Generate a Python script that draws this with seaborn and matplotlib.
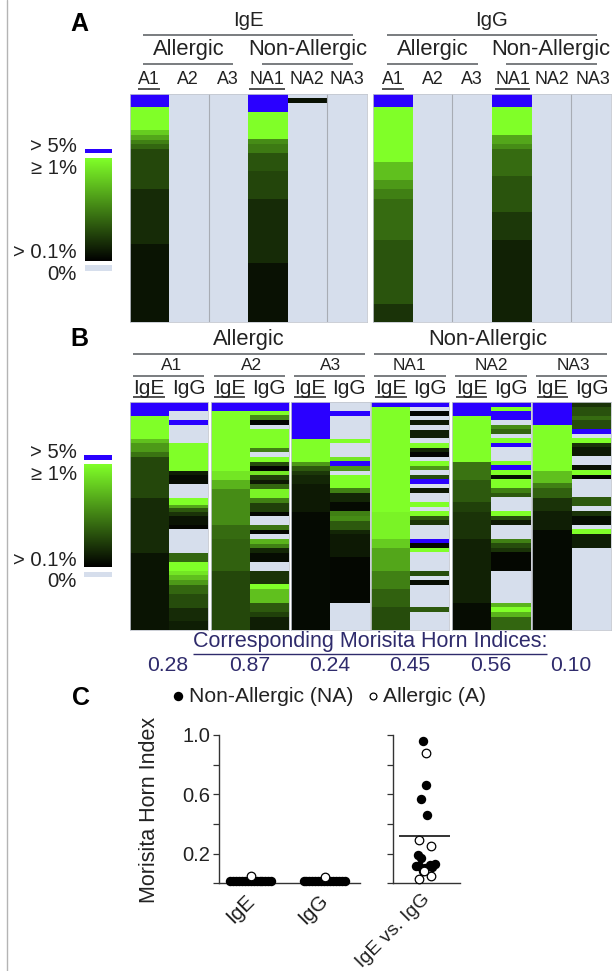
import numpy as np
import pandas as pd
import matplotlib
matplotlib.use('Agg')
import matplotlib.pyplot as plt
from matplotlib.cm import ScalarMappable
from matplotlib.colors import LinearSegmentedColormap, Normalize
import seaborn as sns

sns.set_style('white')
plt.rcParams['font.family'] = ['Liberation Sans', 'DejaVu Sans']

W, H = 612, 971
B = 2.0      # > 5 %, blue
E = np.nan   # 0 %, not detected
ROWS = 684

# ── Data: (share of column height, green level) from top to bottom ────────────
empty = [(684, E)]

a_ige_a1 = [(40, B), (68, 1), (15, .8), (15, .65), (12, .5), (14, .4), (122, .28), (165, .17), (233, .08)]
a_ige_na1 = [(55, B), (80, 1), (15, .55), (27, .48), (55, .33), (82, .27), (192, .17), (178, .07)]
a_ige_na2 = [(13, E), (14, .07), (657, E)]
a_igg_a1 = [(40, B), (165, 1), (54, .75), (27, .6), (28, .5), (123, .42), (192, .33), (55, .2)]
a_igg_na1 = [(40, B), (83, 1), (27, .65), (14, .55), (82, .42), (109, .33), (82, .22), (247, .13)]

b_a1_ige = [(40, B), (70, 1), (13, .75), (27, .6), (14, .45), (123, .28), (164, .17), (233, .08)]
b_a1_igg = [(27, B), (26, E), (15, B), (55, E), (82, 1), (13, .12), (27, .05), (42, E), (21, 1), (8, .65),
            (12, .35), (13, .2), (27, .08), (13, .03), (70, E), (27, .4), (28, 1), (12, .9), (15, .75),
            (15, .6), (27, .4), (41, .3), (40, .17), (28, .12)]
b_a2_ige = [(27, B), (178, 1), (28, .9), (27, .7), (109, .55), (41, .42), (96, .38), (178, .28)]
b_a2_igg = [(27, B), (11, 1), (16, .55), (14, .02), (13, E), (55, 1), (14, .5), (14, E), (14, 1), (13, .3),
            (14, .02), (13, .9), (14, .25), (14, .1), (14, .4), (27, .95), (14, .5), (27, .25), (14, .03),
            (27, E), (14, .45), (13, .02), (14, E), (14, .7), (14, .5), (13, .15), (27, .05), (28, E),
            (40, .2), (15, 1), (42, .75), (27, .35), (13, .25), (41, .12)]
b_a3_ige = [(110, B), (68, 1), (13, .6), (14, .35), (13, .22), (28, .15), (82, .1), (356, .04)]
b_a3_igg = [(27, E), (13, B), (70, E), (13, 1), (41, E), (13, .9), (14, B), (14, .6), (13, E), (40, 1),
            (15, .5), (27, .15), (26, .04), (14, .5), (15, .55), (27, .35), (14, .15), (69, .1), (136, .03),
            (83, E)]
b_na1_ige = [(13, B), (315, 1), (82, .95), (27, .8), (69, .65), (54, .5), (55, .38), (69, .3)]
b_na1_igg = [(13, B), (14, E), (13, .02), (14, E), (14, .1), (14, E), (26, .12), (15, E), (13, 1), (14, .15),
             (13, .02), (13, E), (14, 1), (14, .6), (14, E), (13, .3), (14, B), (13, E), (15, .1), (27, E),
             (14, 1), (13, E), (14, 1), (13, .35), (14, .2), (41, E), (14, B), (14, .03), (13, 1), (56, E),
             (14, .3), (13, E), (14, .05), (68, E), (14, .35), (55, E)]
b_na2_ige = [(40, B), (138, 1), (54, .45), (68, .35), (28, .25), (82, .2), (191, .13), (83, .05)]
b_na2_igg = [(13, B), (13, 1), (27, B), (14, E), (13, .55), (14, .4), (14, E), (13, 1), (14, B), (41, E),
             (13, 1), (14, B), (14, 1), (13, .05), (28, 1), (14, .5), (13, .35), (42, E), (13, 1), (14, .3),
             (13, .1), (42, E), (14, .5), (14, .3), (13, .2), (55, .03), (96, E), (14, .7), (14, 1), (14, .7),
             (41, .4)]
b_na3_ige = [(67, B), (138, 1), (38, .75), (15, .5), (28, .38), (41, .2), (55, .12), (302, .04)]
b_na3_igg = [(13, .2), (27, .32), (13, .42), (27, .3), (14, B), (14, E), (13, 1), (14, .2), (27, .1), (27, E),
             (14, .07), (14, 1), (13, .02), (55, E), (27, .35), (14, E), (14, .2), (27, .05), (14, E), (14, 1),
             (42, .12), (247, E)]

mh_indices = ['0.28', '0.87', '0.24', '0.45', '0.56', '0.10']

# panel C, offsets are the horizontal scatter of the dots
ige_na_off = [-.27, -.23, -.19, -.15, -.11, -.07, -.03, .01, .05, .09, .13, .17, .21, .25, .28]
ige_na_val = [.013] * 15
ige_a_off = [.02]
ige_a_val = [.05]
igg_na_off = [-.27, -.23, -.19, -.15, -.11, -.07, -.03, .01, .05, .09, .13, .17, .21, .25, .29]
igg_na_val = [.013] * 15
igg_a_off = [.03]
igg_a_val = [.04]
cross_na_off = [-.03, .01, -.06, .03, -.09, -.05, -.12, -.08, 0, -.03, .07, .14, .09]
cross_na_val = [.96, .66, .57, .46, .19, .17, .12, .12, .10, .085, .124, .13, .11]
cross_a_off = [.01, -.08, .08, -.08, .08, -.02]
cross_a_val = [.88, .29, .25, .03, .05, .085]
cross_mean = .317

GREEN = '#80ff28'
cmap = LinearSegmentedColormap.from_list('clones', ['#000000', GREEN], N=256)
cmap.set_over('#2a00ff')
cmap.set_bad('#d6deec')
GREY = '#a8acb4'
INK = '#222222'
NAVY = '#2f2b6c'


def px_axes(x0, y0, x1, y1, **kw):
    return fig.add_axes([x0 / W, 1 - y1 / H, (x1 - x0) / W, (y1 - y0) / H], **kw)


def column(segments):
    heights = [s[0] for s in segments]
    levels = [s[1] for s in segments]
    assert sum(heights) == ROWS, (sum(heights), segments)
    return np.repeat(levels, heights)


def block(box, columns, dividers=()):
    ax = px_axes(*box)
    mat = np.column_stack([column(c) for c in columns])
    sns.heatmap(mat, ax=ax, cmap=cmap, vmin=0, vmax=1, cbar=False,
                xticklabels=False, yticklabels=False)
    for sp in ax.spines.values():
        sp.set_visible(True)
        sp.set_color('#c4c8d0')
        sp.set_linewidth(0.6)
    for d in dividers:
        ax.axvline(d, color=GREY, lw=0.8)
    return ax


def scale_legend(x0, x1, y_blue, y_green, y_empty):
    for (y0, y1), col in zip((y_blue, y_empty), ('#2a00ff', '#d6deec')):
        sw = px_axes(x0, y0, x1, y1)
        sw.set_facecolor(col)
        sw.set_xticks([]), sw.set_yticks([])
        sns.despine(ax=sw, left=True, bottom=True)
    cax = px_axes(x0, y_green[0], x1, y_green[1])
    cb = fig.colorbar(ScalarMappable(Normalize(0, 1), cmap), cax=cax)
    cb.set_ticks([])
    cb.outline.set_visible(False)


fig = plt.figure(figsize=(W / 100, H / 100), dpi=100, facecolor='white')

# ── Panel A ───────────────────────────────────────────────────────────────────
block((129.7, 94, 367, 322), [a_ige_a1, empty, empty, a_ige_na1, a_ige_na2, empty], dividers=(2, 5))
block((373, 94, 611, 322), [a_igg_a1, empty, empty, a_igg_na1, empty, empty], dividers=(2, 5))
scale_legend(85, 112, (149, 153.5), (158, 261), (265, 271))

# ── Panel B ───────────────────────────────────────────────────────────────────
block((130, 402.3, 208, 630.3), [b_a1_ige, b_a1_igg])
block((210.7, 402.3, 289, 630.3), [b_a2_ige, b_a2_igg])
block((291, 402.3, 369.7, 630.3), [b_a3_ige, b_a3_igg])
block((371, 402.3, 449.3, 630.3), [b_na1_ige, b_na1_igg])
block((452, 402.3, 530.7, 630.3), [b_na2_ige, b_na2_igg])
block((532.3, 402.3, 610.7, 630.3), [b_na3_ige, b_na3_igg])
scale_legend(84, 112, (455, 460), (464, 567), (572, 577))

# ── Panel C ───────────────────────────────────────────────────────────────────
UNIT = 73.3
ax_c1 = px_axes(219.3, 735, 360, 883.3)
ax_c2 = px_axes(393.3, 735, 460, 883.3)


def dots(ax, off, val, center, filled):
    frame = pd.DataFrame({'x': np.add(off, center), 'y': val})
    sns.scatterplot(data=frame, x='x', y='y', ax=ax, s=46 if filled else 38, clip_on=False,
                    zorder=3 + (not filled), color='black' if filled else 'white',
                    edgecolor='black', linewidth=0 if filled else 0.9, legend=False)


dots(ax_c1, ige_na_off, ige_na_val, 0, True)
dots(ax_c1, ige_a_off, ige_a_val, 0, False)
dots(ax_c1, igg_na_off, igg_na_val, 1, True)
dots(ax_c1, igg_a_off, igg_a_val, 1, False)
dots(ax_c2, cross_a_off, cross_a_val, 0, False)
dots(ax_c2, cross_na_off, cross_na_val, 0, True)
ax_c2.hlines(cross_mean, -.35, .34, color='#111111', lw=1.2, zorder=5)

ax_c1.set_xlim(-(250 - 219.3) / UNIT, (360 - 250) / UNIT)
ax_c2.set_xlim(-(425 - 393.3) / UNIT, (460 - 425) / UNIT)
# labels end a little left of the dot groups
ax_c1.set_xticks([-.07, .93], ['IgE', 'IgG'])
ax_c2.set_xticks([-.05], ['IgE vs. IgG'])
for ax in (ax_c1, ax_c2):
    ax.set_ylim(0, 1)
    ax.set_yticks([0, .2, .4, .6, .8, 1.0])
    ax.set_xlabel('')
    ax.set_ylabel('')
    ax.patch.set_alpha(0)
    sns.despine(ax=ax)
    for s in ('left', 'bottom'):
        ax.spines[s].set_color('#333333')
        ax.spines[s].set_linewidth(1.0)
    ax.tick_params(axis='y', left=True, length=4.5, width=0.9, color='#333333', labelsize=14.5,
                   labelcolor=INK, pad=2)
    ax.tick_params(axis='x', bottom=False, labelsize=15, labelcolor=INK, pad=2)
    for t in ax.get_xticklabels():
        t.set_rotation(45)
        t.set_ha('right')
        t.set_rotation_mode('anchor')
ax_c2.get_xticklabels()[0].set_fontsize(14)
ax_c1.set_yticklabels(['', '0.2', '', '0.6', '', '1.0'])
ax_c2.set_yticklabels([])

# ── Texts and header rules, placed in picture pixels ──────────────────────────
ov = fig.add_axes([0, 0, 1, 1], zorder=20)
ov.set_xlim(0, W)
ov.set_ylim(H, 0)
ov.axis('off')


def label(x, y, s, size=15.8, color=INK, **kw):
    kw.setdefault('ha', 'center')
    ov.text(x, y, s, fontsize=size, color=color, va='center', **kw)


def rule(x0, x1, y, lw=1.1, color='#55585c'):
    ov.plot([x0, x1], [y, y], color=color, lw=lw, solid_capstyle='butt')


ov.plot([7.3, 7.3], [0, 971], color='#b4b4b4', lw=1.0)

label(79, 24, 'A', size=18, color='black', fontweight='bold')
label(79, 339, 'B', size=18, color='black', fontweight='bold')
label(81, 698, 'C', size=18, color='black', fontweight='bold')

# panel A header
label(248, 20, 'IgE', size=14.7)
label(491.7, 20, 'IgG', size=14.7)
rule(142.7, 352.7, 34.7)
rule(386.7, 596.7, 34.7)
label(189, 50, 'Allergic')
label(307.8, 50, 'Non-Allergic')
label(432.5, 50, 'Allergic')
label(551, 50, 'Non-Allergic')
for x0, x1 in ((142.7, 233), (262, 352.7), (386.7, 477.7), (505.7, 596.7)):
    rule(x0, x1, 64)
for x, s in zip((149, 188, 227.7, 267, 307, 346.7, 393.3, 432.7, 471.7, 512.7, 552, 592.7),
                ('A1', 'A2', 'A3', 'NA1', 'NA2', 'NA3') * 2):
    label(x, 80, s, size=12.8)
for x0, x1 in ((138, 160), (249, 285), (382, 404), (494.7, 530.3)):
    rule(x0, x1, 88.7, color=INK)

# scale labels
for y5, y1, y01, y0 in ((146.7, 169, 252.7, 274), (453, 475, 560, 581.7)):
    label(77, y5, '> 5%', size=14.6, ha='right')
    label(77, y1, '≥ 1%', size=14.6, ha='right')
    label(77, y01, '> 0.1%', size=14.6, ha='right')
    label(77, y0, '0%', size=14.6, ha='right')

# panel B header
label(249.3, 340, 'Allergic')
label(488.3, 340, 'Non-Allergic')
rule(133, 365, 353.7)
rule(374.3, 607.3, 353.7)
for x, s in zip((172, 251.7, 330.7, 409.7, 491.7, 573), ('A1', 'A2', 'A3', 'NA1', 'NA2', 'NA3')):
    label(x, 365.7, s, size=12.4)
for x0, x1 in ((133, 204.3), (213.7, 285), (294, 365), (374.3, 446), (455, 526.7), (536, 607.3)):
    rule(x0, x1, 376.3)
for x, s in zip((149, 188.7, 230, 269, 310, 349.3, 390.7, 430, 471.7, 510.7, 552.3, 591.7),
                ('IgE', 'IgG') * 6):
    label(x, 388, s, size=15)
for x0, x1 in ((133, 165), (213.7, 245.3), (294, 325.7), (375, 406.7), (455.7, 487.3), (536.7, 568.3)):
    rule(x0, x1, 397.3, color=INK)

# Morisita Horn row
label(370, 642, 'Corresponding Morisita Horn Indices:', size=15.5, color=NAVY)
rule(193, 547, 654, lw=1.0, color=NAVY)
for x, s in zip((167.3, 249.3, 330, 409.7, 491, 571), mh_indices):
    label(x, 665.7, s, size=15.2, color=NAVY)

# panel C legend and y label
ov.scatter([178.3], [696], s=46, color='black', linewidths=0)
ov.scatter([373.3], [696], s=24, color='white', edgecolors='black', linewidths=0.9)
label(189.3, 696, 'Non-Allergic (NA)', size=15.2, ha='left')
label(382.7, 696, 'Allergic (A)', size=15.2, ha='left')
label(149.3, 809.7, 'Morisita Horn Index', size=15.5, rotation=90)

fig.savefig('out.png', dpi=100)
